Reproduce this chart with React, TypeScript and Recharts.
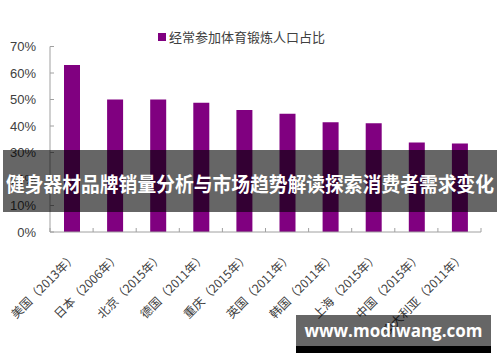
import React from 'react';
import { BarChart, Bar, XAxis, YAxis, Legend } from 'recharts';

const categories = [
  '美国（2013年）',
  '日本（2006年）',
  '北京（2015年）',
  '德国（2011年）',
  '重庆（2015年）',
  '英国（2011年）',
  '韩国（2011年）',
  '上海（2015年）',
  '中国（2015年）',
  '澳大利亚（2011年）',
];
const values = [63, 50, 50, 48.8, 46, 44.6, 41.4, 41, 33.8, 33.4];
const yTicks = [0, 10, 20, 30, 40, 50, 60, 70];
const seriesName = '经常参加体育锻炼人口占比';
const title = '健身器材品牌销量分析与市场趋势解读探索消费者需求变化';
const watermark = 'www.modiwang.com';

const data = categories.map((c, i) => ({ name: c, value: values[i] }));

const W = 500;
const H = 362;
const MARGIN = { top: 27.5, right: 19, left: 0, bottom: 0 };
const Y_W = 50;
const BAND = (W - Y_W - MARGIN.right) / categories.length;
const TEXT = '#404040';
const AXIS = '#a0a0a0';
const CJK = '"Noto Sans CJK SC", "Liberation Sans", sans-serif';

const YTick = (props: any) => {
  const { x, y, payload } = props;
  return (
    <g>
      <line x1={x} x2={x + 4} y1={y} y2={y} stroke={AXIS} />
      <text
        x={x - 14}
        y={y}
        dy="0.36em"
        textAnchor="end"
        fill={TEXT}
        fontSize={13}
        fontFamily='"Liberation Sans", Arial, sans-serif'
      >
        {payload.value}%
      </text>
    </g>
  );
};

const XTick = (props: any) => {
  const { x, y, payload, index } = props;
  const ax = x + 6;
  const ay = y + 26;
  return (
    <g>
      {index === 0 && (
        <line x1={x - BAND / 2} x2={x - BAND / 2} y1={y} y2={y - 4} stroke={AXIS} />
      )}
      <line x1={x + BAND / 2} x2={x + BAND / 2} y1={y} y2={y - 4} stroke={AXIS} />
      <text
        x={ax}
        y={ay}
        textAnchor="end"
        transform={`rotate(-45 ${ax} ${ay})`}
        fill={TEXT}
        fontSize={12}
        fontFamily={CJK}
      >
        {payload.value}
      </text>
    </g>
  );
};

const LegendContent = () => (
  <div style={{ display: 'flex', alignItems: 'center', fontFamily: CJK, fontSize: 13, color: TEXT, whiteSpace: 'nowrap' }}>
    <span style={{ display: 'inline-block', width: 8, height: 8, background: '#800080', marginRight: 3 }} />
    <span>{seriesName}</span>
  </div>
);

export default function App() {
  return (
    <div style={{ position: 'absolute', left: 0, top: 0, width: W, height: H, background: '#fff', overflow: 'hidden' }}>
      <BarChart width={W} height={H} data={data} margin={MARGIN}>
        <YAxis
          domain={[0, 70]}
          ticks={yTicks}
          width={Y_W}
          axisLine={{ stroke: AXIS }}
          tickLine={false}
          tickSize={0}
          tickMargin={0}
          tick={<YTick />}
          interval={0}
        />
        <XAxis
          dataKey="name"
          height={H - 232}
          axisLine={{ stroke: AXIS }}
          tickLine={false}
          tickSize={0}
          tickMargin={0}
          tick={<XTick />}
          interval={0}
        />
        <Legend
          verticalAlign="top"
          align="left"
          content={<LegendContent />}
          wrapperStyle={{ position: 'absolute', top: 27, left: 158, width: 'auto' }}
        />
        <Bar dataKey="value" name={seriesName} fill="#800080" barSize={16} isAnimationActive={false} />
      </BarChart>
      <svg
        width={494}
        height={62}
        style={{ position: 'absolute', left: 3, top: 150 }}
      >
        <rect x={0} y={0} width={494} height={62} fill="rgba(0,0,0,0.6)" />
        <text
          x={3}
          y={42}
          textLength={488}
          lengthAdjust="spacingAndGlyphs"
          fill="#fff"
          fontFamily={CJK}
          fontWeight="bold"
          fontSize={20}
        >
          {title}
        </text>
      </svg>
      <div
        style={{
          position: 'absolute',
          left: 296,
          top: 315,
          width: 195,
          height: 31,
          background: 'rgba(0,0,0,0.6)',
          borderBottom: '7px solid #000',
          color: '#fff',
          fontFamily: '"Open Sans", sans-serif',
          fontWeight: 'bold',
          fontSize: 17,
          lineHeight: '31px',
          textAlign: 'center',
          whiteSpace: 'nowrap',
        }}
      >
        {watermark}
      </div>
    </div>
  );
}
